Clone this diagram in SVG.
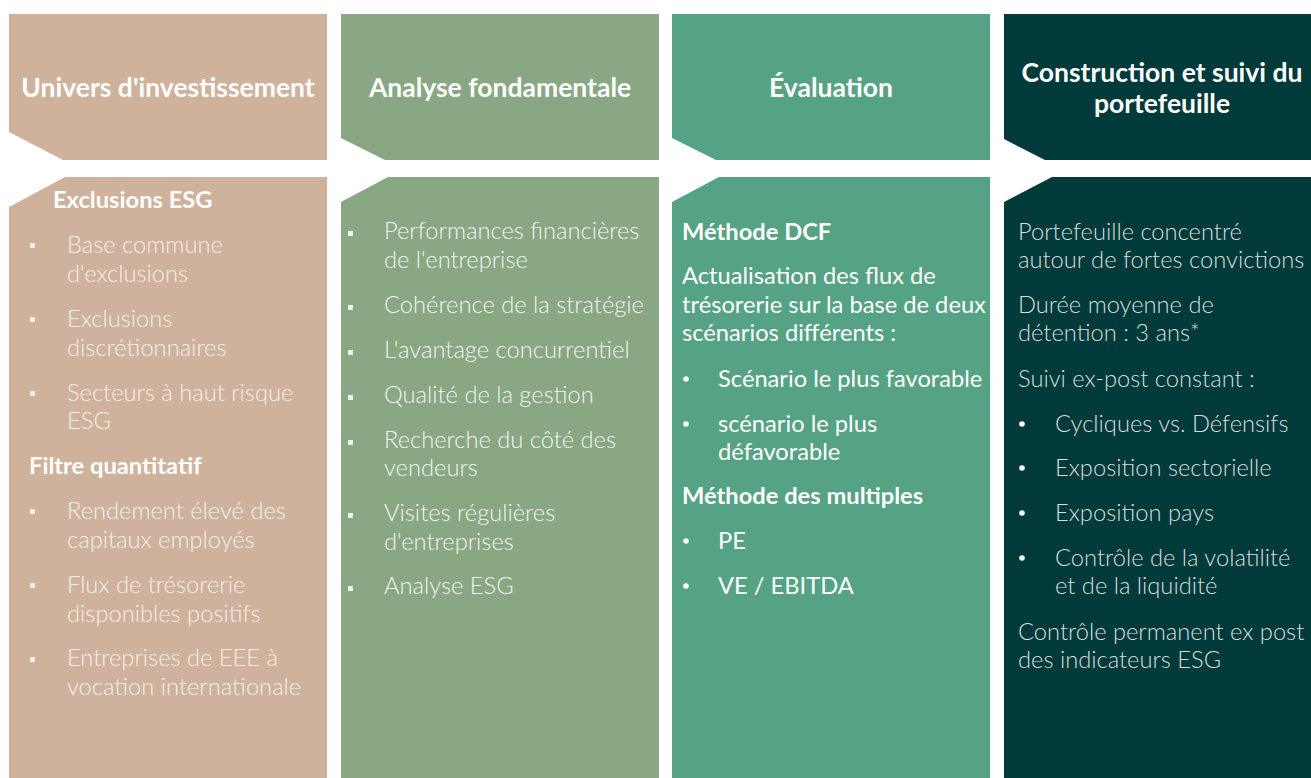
<svg xmlns="http://www.w3.org/2000/svg" width="1311" height="778" viewBox="0 0 1311 778">
<style>
.hd{font-family:Lato,"Open Sans","Liberation Sans",sans-serif;font-weight:700;font-size:26.5px;fill:#ffffff;text-anchor:middle}
.lt{font-family:Lato,"Open Sans","Liberation Sans",sans-serif;font-weight:300;font-size:23.7px}
.rg{font-family:Lato,"Open Sans","Liberation Sans",sans-serif;font-weight:400;font-size:23.7px;fill:#ffffff}
.bd{font-family:Lato,"Open Sans","Liberation Sans",sans-serif;font-weight:700;font-size:23.7px;fill:#ffffff}
.c1{fill:#F6EFEA}
.c2{fill:#F1F5EF}
.c4{fill:#D6DFDE}
</style>
<rect width="1311" height="778" fill="#ffffff"/>
<g id="col1">
<polygon points="9,14 327,14 327,160 63,160 9,132" fill="#CFB29C"/>
<text class="hd" x="168" y="97">Univers d'investissement</text>
<polygon points="65,177 327,177 327,778 9,778 9,207" fill="#CFB29C"/>
<text class="bd" x="53" y="208">Exclusions ESG</text>
<g class="c1">
<rect x="30" y="243" width="5" height="5"/>
<rect x="30" y="317" width="5" height="5"/>
<rect x="30" y="391" width="5" height="5"/>
<rect x="30" y="509" width="5" height="5"/>
<rect x="30" y="583" width="5" height="5"/>
<rect x="30" y="657" width="5" height="5"/>
</g>
<g class="lt c1">
<text x="67" y="253">Base commune</text>
<text x="67" y="282">d'exclusions</text>
<text x="67" y="327">Exclusions</text>
<text x="67" y="356">discrétionnaires</text>
<text x="67" y="401">Secteurs à haut risque</text>
<text x="67" y="429">ESG</text>
<text x="67" y="519">Rendement élevé des</text>
<text x="67" y="548">capitaux employés</text>
<text x="67" y="593">Flux de trésorerie</text>
<text x="67" y="622">disponibles positifs</text>
<text x="67" y="666">Entreprises de EEE à</text>
<text x="67" y="695">vocation internationale</text>
</g>
<text class="bd" x="29" y="474">Filtre quantitatif</text>
</g>
<g id="col2">
<polygon points="341,14 659,14 659,160 385,160 341,138" fill="#89A783"/>
<text class="hd" x="500" y="97">Analyse fondamentale</text>
<polygon points="388,177 659,177 659,778 341,778 341,202" fill="#89A783"/>
<g class="c2">
<rect x="348" y="231" width="5" height="5"/>
<rect x="348" y="305" width="5" height="5"/>
<rect x="348" y="350" width="5" height="5"/>
<rect x="348" y="395" width="5" height="5"/>
<rect x="348" y="440" width="5" height="5"/>
<rect x="348" y="513" width="5" height="5"/>
<rect x="348" y="586" width="5" height="5"/>
</g>
<g class="lt c2">
<text x="384" y="239">Performances financières</text>
<text x="384" y="268">de l'entreprise</text>
<text x="384" y="313">Cohérence de la stratégie</text>
<text x="384" y="358">L'avantage concurrentiel</text>
<text x="384" y="403">Qualité de la gestion</text>
<text x="384" y="448">Recherche du côté des</text>
<text x="384" y="476">vendeurs</text>
<text x="384" y="521">Visites régulières</text>
<text x="384" y="550">d'entreprises</text>
<text x="384" y="594">Analyse ESG</text>
</g>
</g>
<g id="col3">
<polygon points="672,14 990,14 990,160 716,160 672,138" fill="#55A284"/>
<text class="hd" x="831" y="97">Évaluation</text>
<polygon points="719,177 990,177 990,778 672,778 672,202" fill="#55A284"/>
<text class="bd" x="682" y="240">Méthode DCF</text>
<g class="rg">
<text x="682" y="284">Actualisation des flux de</text>
<text x="682" y="313">trésorerie sur la base de deux</text>
<text x="682" y="341">scénarios différents :</text>
<text x="718" y="387">Scénario le plus favorable</text>
<text x="718" y="432">scénario le plus</text>
<text x="718" y="460">défavorable</text>
<text x="718" y="549">PE</text>
<text x="718" y="594">VE / EBITDA</text>
</g>
<g fill="#ffffff">
<circle cx="686" cy="379" r="2.8"/>
<circle cx="686" cy="424" r="2.8"/>
<circle cx="686" cy="541" r="2.8"/>
<circle cx="686" cy="586" r="2.8"/>
</g>
<text class="bd" x="682" y="504">Méthode des multiples</text>
</g>
<g id="col4">
<polygon points="1004,14 1322,14 1322,160 1045,160 1004,139" fill="#013A3A"/>
<text class="hd" x="1162" y="82">Construction et suivi du</text>
<text class="hd" x="1162" y="113">portefeuille</text>
<polygon points="1052,177 1322,177 1322,778 1004,778 1004,202" fill="#013A3A"/>
<g class="lt c4">
<text x="1018" y="240">Portefeuille concentré</text>
<text x="1018" y="268">autour de fortes convictions</text>
<text x="1018" y="313">Durée moyenne de</text>
<text x="1018" y="341">détention : 3 ans*</text>
<text x="1018" y="387">Suivi ex-post constant :</text>
<text x="1055" y="432">Cycliques vs. Défensifs</text>
<text x="1055" y="476">Exposition sectorielle</text>
<text x="1055" y="521">Exposition pays</text>
<text x="1055" y="566">Contrôle de la volatilité</text>
<text x="1055" y="594">et de la liquidité</text>
<text x="1018" y="640">Contrôle permanent ex post</text>
<text x="1018" y="668">des indicateurs ESG</text>
</g>
<g fill="#ffffff">
<circle cx="1022" cy="424" r="2.8"/>
<circle cx="1022" cy="468" r="2.8"/>
<circle cx="1022" cy="513" r="2.8"/>
<circle cx="1022" cy="558" r="2.8"/>
</g>
</g>
<g id="connectors"></g>
</svg>
